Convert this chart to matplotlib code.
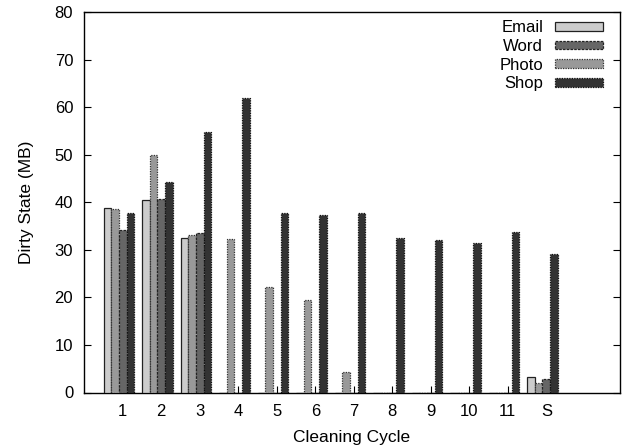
import matplotlib
matplotlib.use("Agg")
import matplotlib.pyplot as plt
import numpy as np

plt.rcParams['font.family'] = ['Liberation Sans', 'DejaVu Sans']

cycles = ["1", "2", "3", "4", "5", "6", "7", "8", "9", "10", "11", "S"]
email = [38.7, 40.5, 32.4, 0, 0, 0, 0, 0, 0, 0, 0, 3.2]
word = [34.2, 40.7, 33.5, 0, 0, 0, 0, 0, 0, 0, 0, 2.8]
photo = [38.5, 50.0, 33.1, 32.2, 22.2, 19.4, 4.4, 0, 0, 0, 0, 1.9]
shop = [37.8, 44.3, 54.8, 61.9, 37.7, 37.3, 37.7, 32.4, 32.1, 31.5, 33.8, 29.1]

fig = plt.figure(figsize=(6.31, 4.47), dpi=100)
ax = fig.add_axes([84.3 / 631, 1 - 392.5 / 447, (619.5 - 84.3) / 631, (392.5 - 12) / 447])

x = np.arange(1, len(cycles) + 1)
w = 0.2
# bar order inside a group: email, photo, word, shop
ax.bar(x - 0.4, email, w, color="#cccccc", edgecolor="#222222", linewidth=0.9,
       label="Email", zorder=3)
ax.bar(x - 0.2, photo, w, color="#999999", edgecolor="#333333", linewidth=0.9,
       linestyle=(0, (1, 1)), label="Photo", zorder=3)
ax.bar(x, word, w, color="#666666", edgecolor="#222222", linewidth=0.9,
       linestyle=(0, (2, 1)), label="Word", zorder=3)
ax.bar(x + 0.2, shop, w, color="#333333", edgecolor="#111111", linewidth=0.9,
       linestyle=(0, (1, 1)), label="Shop", zorder=3)

ax.set_xlim(0, 13.9)
ax.set_ylim(0, 80)
ax.set_xticks(x)
ax.set_xticklabels(cycles)
ax.set_yticks(np.arange(0, 81, 10))
ax.tick_params(axis="both", direction="in", length=5, width=0.8, labelsize=12, pad=8)
ax.tick_params(axis="y", right=True)
ax.set_xlabel("Cleaning Cycle", fontsize=12.5, labelpad=8)
ax.set_ylabel("Dirty State (MB)", fontsize=12.5, labelpad=15)
for s in ax.spines.values():
    s.set_linewidth(1.0)

h, l = ax.get_legend_handles_labels()
order = [0, 2, 1, 3]
ax.legend([h[i] for i in order], [l[i] for i in order], loc="upper right",
          frameon=False, markerfirst=False, fontsize=12, handlelength=2.9,
          handleheight=0.42, labelspacing=0.22, handletextpad=0.7,
          borderaxespad=0.1, bbox_to_anchor=(0.985, 1.0))

fig.savefig("out.png", dpi=100)
